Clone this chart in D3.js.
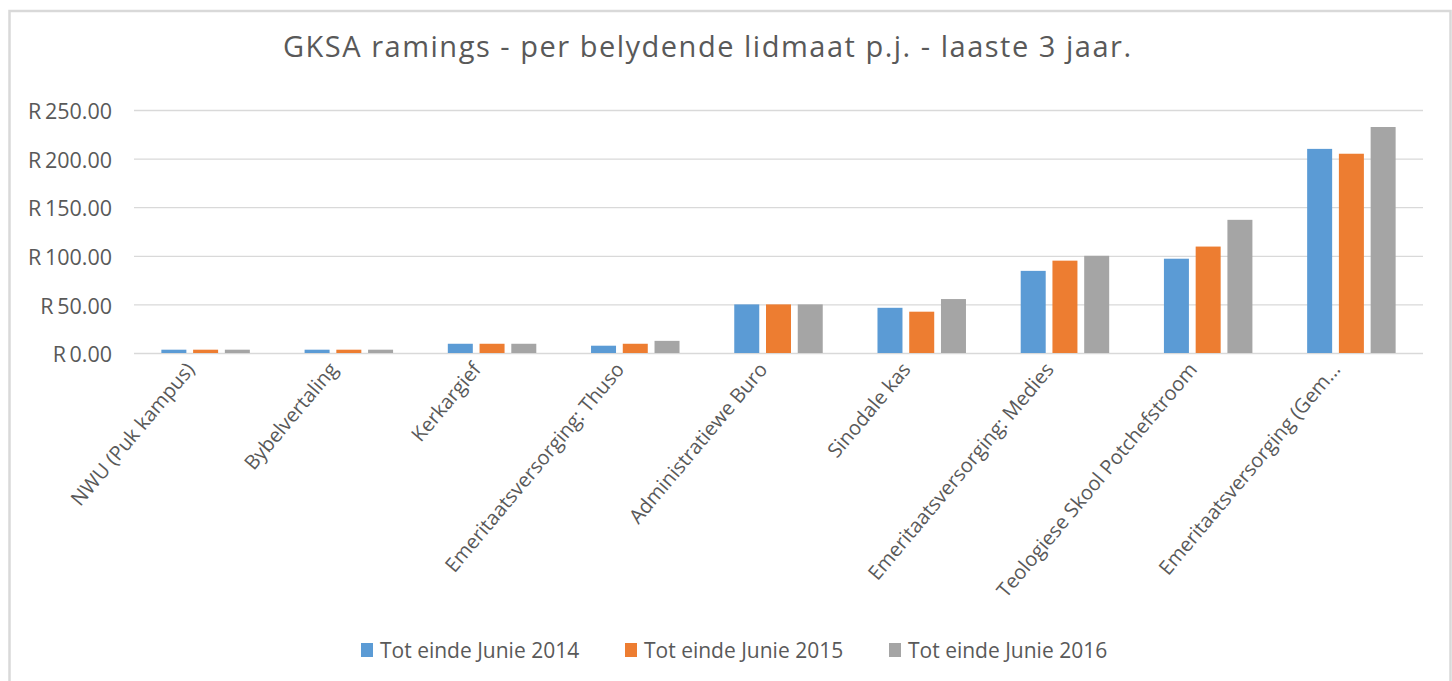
<!DOCTYPE html>
<html>
<head>
<meta charset="utf-8">
<script src="https://cdn.jsdelivr.net/npm/d3@7"></script>
<style>
  body { margin: 0; background: #fff; }
  text { font-family: "Open Sans", sans-serif; fill: #595959; }
</style>
</head>
<body>
<div id="chart"></div>
<script>
const categories = [
  "NWU (Puk kampus)",
  "Bybelvertaling",
  "Kerkargief",
  "Emeritaatsversorging: Thuso",
  "Administratiewe Buro",
  "Sinodale kas",
  "Emeritaatsversorging: Medies",
  "Teologiese Skool Potchefstroom",
  "Emeritaatsversorging (Gem..."
];
const seriesNames = ["Tot einde Junie 2014", "Tot einde Junie 2015", "Tot einde Junie 2016"];
const values2014 = [3.4, 3.4, 9.5, 7.5, 50, 46.5, 84.5, 97, 210];
const values2015 = [3.4, 3.4, 9.5, 9.5, 50, 42.5, 95, 109.5, 205];
const values2016 = [3.4, 3.4, 9.5, 12.5, 50, 55.5, 100, 137, 232.5];
const yTicks = [0, 50, 100, 150, 200, 250];
const colors = ["#5b9bd5", "#ed7d31", "#a5a5a5"];

const width = 1452;
const height = 681;
const margin = { top: 110, right: 29, bottom: 328, left: 134 };

const svg = d3.select("#chart").append("svg")
  .attr("width", width)
  .attr("height", height);

// outer chart border (bottom edge falls outside the picture)
svg.append("rect")
  .attr("x", 9.5).attr("y", 11)
  .attr("width", 1441).attr("height", 700)
  .attr("fill", "none")
  .attr("stroke", "#d9d9d9")
  .attr("stroke-width", 2.5);

svg.append("text")
  .attr("x", 707).attr("y", 57)
  .attr("text-anchor", "middle")
  .style("font-size", "29px")
  .attr("textLength", 848)
  .attr("lengthAdjust", "spacing")
  .text("GKSA ramings - per belydende lidmaat p.j. - laaste 3 jaar.");

const x0 = d3.scaleBand()
  .domain(categories)
  .range([margin.left, width - margin.right]);

// Excel style: gap width 219%, overlap -27%
const barW = x0.step() / (3 + 2 * 0.27 + 2.19);
const groupW = 3 * barW + 2 * 0.27 * barW;
const x1 = d3.scaleBand()
  .domain(seriesNames)
  .range([0, groupW])
  .paddingInner(0.27 / 1.27);

const y = d3.scaleLinear()
  .domain([0, 250])
  .range([height - margin.bottom, margin.top]);

// grid + y labels
const yAxis = svg.append("g")
  .attr("transform", `translate(${margin.left},0)`)
  .call(d3.axisLeft(y)
    .tickValues(yTicks)
    .tickSize(-(width - margin.left - margin.right))
    .tickPadding(22)
    .tickFormat(d => "R\u2009" + d.toFixed(2)));
yAxis.select(".domain").remove();
yAxis.selectAll(".tick line").attr("stroke", "#d9d9d9").attr("stroke-width", 1.3);
yAxis.selectAll(".tick text")
  .attr("fill", "#595959")
  .style("font-family", "'Open Sans', sans-serif")
  .style("font-size", "21.5px")
  .attr("dy", "0.4em");

const data = categories.map((c, i) => ({
  cat: c,
  vals: [values2014[i], values2015[i], values2016[i]]
}));

const groups = svg.append("g").selectAll("g")
  .data(data)
  .join("g")
  .attr("transform", d => `translate(${x0(d.cat) + (x0.step() - groupW) / 2},0)`);

groups.selectAll("rect")
  .data(d => d.vals.map((v, i) => ({ key: seriesNames[i], v, i })))
  .join("rect")
  .attr("x", d => x1(d.key))
  .attr("width", x1.bandwidth())
  .attr("y", d => y(d.v))
  .attr("height", d => y(0) - y(d.v))
  .attr("fill", d => colors[d.i]);

// x labels rotated
svg.append("g").selectAll("text")
  .data(categories)
  .join("text")
  .attr("text-anchor", "end")
  .attr("transform", d => `translate(${x0(d) + x0.bandwidth() / 2 - 10},${y(0) + 17}) rotate(-50)`)
  .style("font-size", "20px")
  .text(d => d);

// legend
const legendX = [361, 625, 889];
const legend = svg.append("g").selectAll("g")
  .data(seriesNames)
  .join("g")
  .attr("transform", (d, i) => `translate(${legendX[i]},643)`);
legend.append("rect")
  .attr("width", 12).attr("height", 14)
  .attr("fill", (d, i) => colors[i]);
legend.append("text")
  .attr("x", 19).attr("y", 14.5)
  .style("font-size", "21px")
  .text(d => d);
</script>
</body>
</html>
